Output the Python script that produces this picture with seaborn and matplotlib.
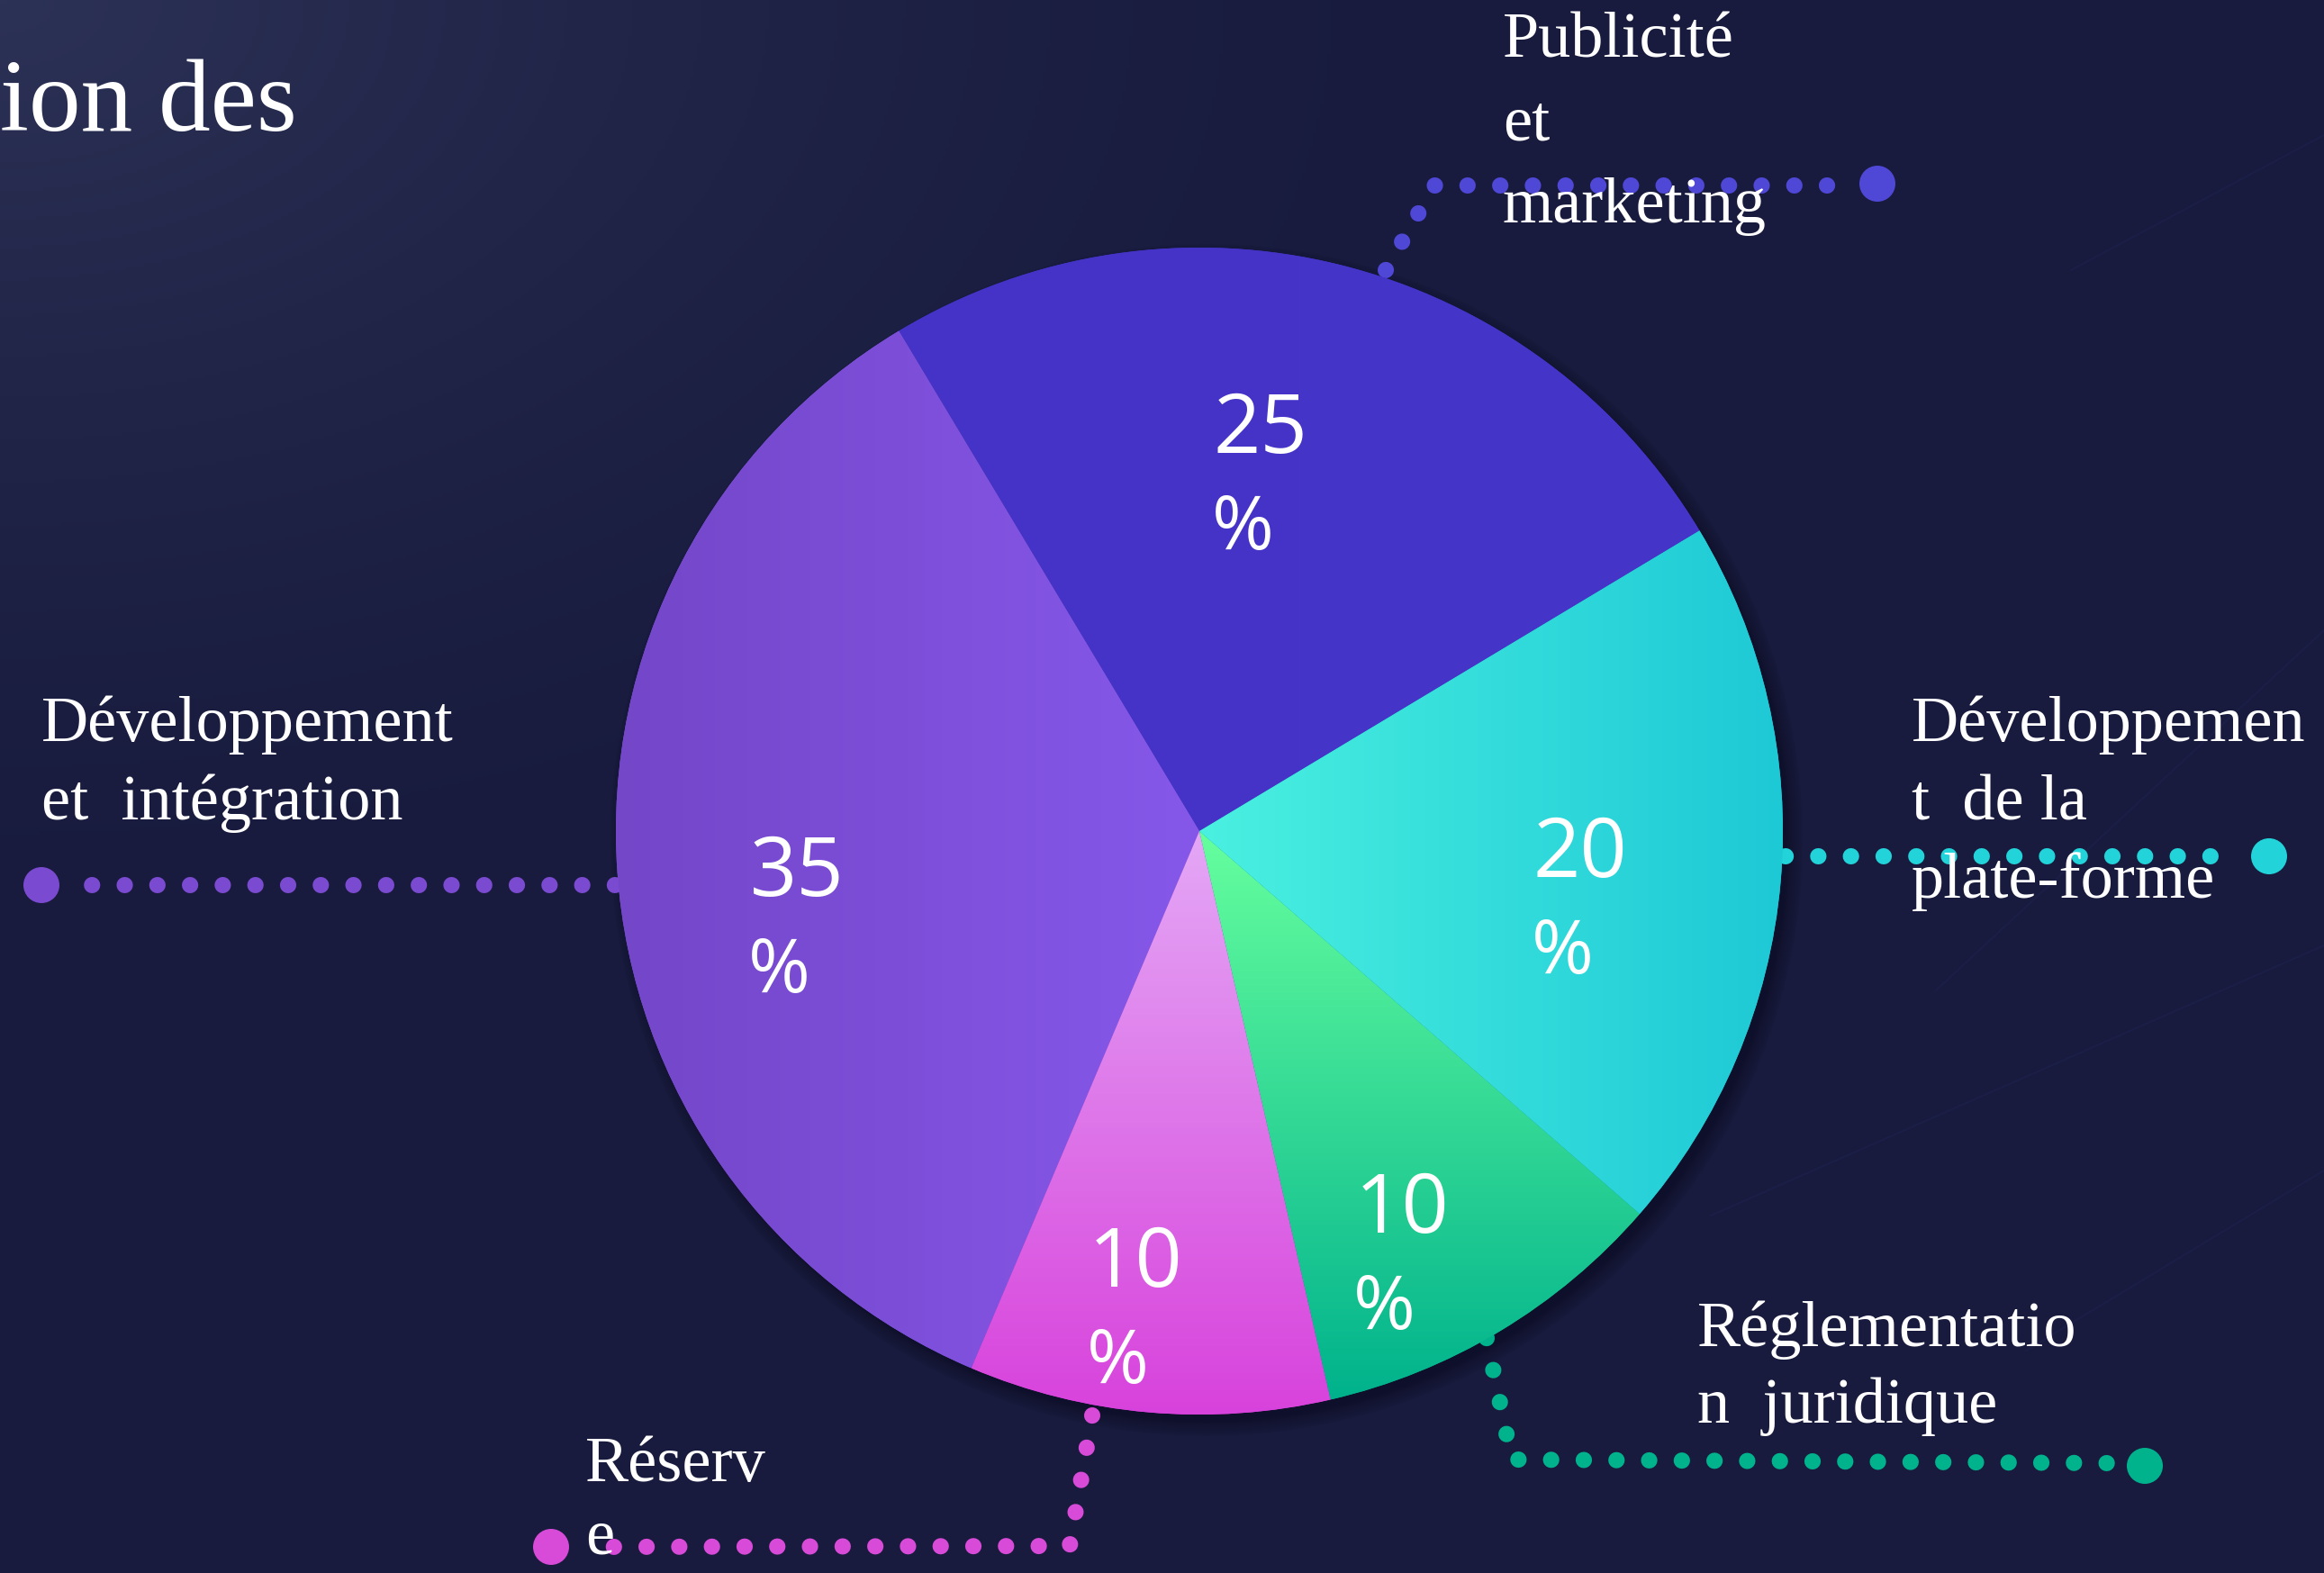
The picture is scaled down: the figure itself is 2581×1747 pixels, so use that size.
import numpy as np
import matplotlib
matplotlib.use('Agg')
import matplotlib.pyplot as plt
from matplotlib.patches import Circle
import seaborn as sns

# data
categories = ['Publicité et marketing', 'Développement et intégration', 'Réserve',
              'Réglementation juridique', 'Développement de la plate-forme']
shares = [25, 35, 10, 10, 20]
wrapped_labels = ['Publicité\net\nmarketing', 'Développement\net  intégration', 'Réserv\ne',
                  'Réglementatio\nn  juridique', 'Développemen\nt  de la\nplate-forme']
title_text = 'ion des'

# slice gradients (start colour, end colour, direction)
grad_colors = [('#4433c6', '#4535c8'), ('#7446c8', '#8658ea'), ('#e4a8f6', '#d842dc'),
               ('#66ff9e', '#00b28c'), ('#4af0e0', '#1ec9d6')]
grad_dirs = ['h', 'h', 'v', 'v', 'h']
line_colors = ['#4f47d6', '#7a4ad0', '#d84ad8', '#00b38d', '#22d3da']

sns.set_theme(style='dark')
plt.rcParams['font.family'] = ['Liberation Serif', 'DejaVu Serif']

W, H = 2581, 1747
fig = plt.figure(figsize=(W / 100, H / 100), dpi=100)
ax = fig.add_axes([0, 0, 1, 1])

# background gradient (lighter top-left corner)
yy, xx = np.mgrid[0:H:4, 0:W:4]
t = np.clip(1 - np.hypot(xx / 1.0, yy * 1.6) / 1700, 0, 1) ** 1.5
bg_cmap = sns.blend_palette(['#181b3d', '#2c3256'], as_cmap=True)
ax.imshow(t, cmap=bg_cmap, extent=[0, W, 0, H], origin='upper', aspect='auto', zorder=0)

# a few faint background strokes
for (x0, y0, x1, y1) in [(2150, 1100, 2581, 700), (2300, 300, 2581, 150), (1900, 1350, 2581, 1050),
                          (2250, 1500, 2581, 1300)]:
    ax.plot([x0, x1], [H - y0, H - y1], color='#2a2c78', lw=1.5, alpha=0.18, zorder=1)

cx, cy, R = 1332, H - 923, 648

# soft shadow
for k in range(10):
    ax.add_patch(Circle((cx + 8, cy - 10), R + 14 - k * 2, color='#06071a', alpha=0.05, lw=0, zorder=2))

wedges, _ = ax.pie(shares, startangle=31, counterclock=True, center=(cx, cy), radius=R,
                   colors=[c[1] for c in grad_colors], wedgeprops=dict(linewidth=0, zorder=3))

g = np.linspace(0, 1, 256)
for w, (c0, c1), d in zip(wedges, grad_colors, grad_dirs):
    x0, y0, x1, y1 = w.get_path().get_extents().extents
    cmap = sns.blend_palette([c0, c1], as_cmap=True)
    img = g[None, :] if d == 'h' else g[:, None]
    im = ax.imshow(img, cmap=cmap, extent=[x0, x1, y0, y1], origin='upper', aspect='auto',
                   interpolation='bicubic', zorder=4)
    im.set_clip_path(w)

# percentage labels
pct_r = [0.625, 0.705, 0.82, 0.80, 0.662]
pct_dtheta = [4.4, 7.8, -2.7, -5.3, -4.7]
for w, v, r, dt in zip(wedges, shares, pct_r, pct_dtheta):
    ang = np.deg2rad((w.theta1 + w.theta2) / 2 + dt)
    xc, yc = cx + r * R * np.cos(ang), cy + r * R * np.sin(ang)
    ax.text(xc, yc + 21, f'{v}', ha='center', va='baseline', fontsize=66, color='white',
            family='Open Sans', zorder=6)
    ax.text(xc - 54, yc - 86, '%', ha='left', va='baseline', fontsize=60, color='white',
            family='Open Sans', zorder=6)

# leader lines (pixel coordinates from the top)
leaders = [
    [(1539, 300), (1593, 206), (2041, 206)],
    [(683, 983), (86, 983)],
    [(1213, 1572), (1188, 1717), (658, 1718)],
    [(1651, 1486), (1679, 1621), (2345, 1625)],
    [(1983, 951), (2477, 951)],
]
end_dots = [(2085, 204), (46, 983), (612, 1718), (2382, 1628), (2520, 951)]
for pts, end, col in zip(leaders, end_dots, line_colors):
    xs = [p[0] for p in pts]
    ys = [H - p[1] for p in pts]
    ax.plot(xs, ys, color=col, lw=13, linestyle=(0, (0.01, 2.0)), dash_capstyle='round',
            solid_capstyle='round', zorder=2.5)
    ax.add_patch(Circle((end[0], H - end[1]), 20, color=col, lw=0, zorder=2.6))

# category labels: left x, first baseline, line gap
label_pos = [(1669, 63, 92), (46, 823, 87), (650, 1645, 80), (1885, 1495, 85), (2123, 823, 87)]
for lbl, (lx, by, gap) in zip(wrapped_labels, label_pos):
    for i, line in enumerate(lbl.split('\n')):
        ax.text(lx, H - (by + i * gap), line, ha='left', va='baseline', fontsize=52,
                color='white', zorder=7)

ax.text(0, H - 145, title_text, ha='left', va='baseline', fontsize=83, color='white', zorder=7)

ax.set_xlim(0, W)
ax.set_ylim(0, H)
ax.set_aspect('equal')
ax.axis('off')

fig.savefig('out.png', dpi=100, facecolor='#181b3d')
plt.close(fig)
